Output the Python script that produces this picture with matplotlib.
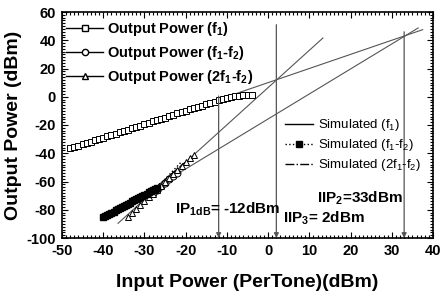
import matplotlib
matplotlib.use('Agg')
import matplotlib.pyplot as plt
from matplotlib.ticker import MultipleLocator

plt.rcParams['font.family'] = ['Liberation Sans', 'DejaVu Sans']
plt.rcParams['mathtext.default'] = 'regular'
plt.rcParams['axes.unicode_minus'] = False

# measured fundamental (f1)
pin_f1 = [-48, -47, -46, -45, -44, -43, -42, -41, -40, -39, -38, -37, -36, -35, -34,
          -33, -32, -31, -30, -29, -28, -27, -26, -25, -24, -23, -22, -21, -20, -19,
          -18, -17, -16, -15, -14, -13, -12, -11, -10, -9, -8, -7, -6, -5, -4]
pout_f1 = [-36.5, -35.6, -34.6, -33.7, -32.7, -31.8, -30.8, -29.9, -28.9, -28.0, -27.0,
           -26.1, -25.1, -24.2, -23.2, -22.3, -21.3, -20.4, -19.4, -18.5, -17.5, -16.6,
           -15.6, -14.7, -13.7, -12.8, -11.8, -10.9, -9.9, -9.0, -8.0, -7.1, -6.2, -5.3,
           -4.4, -3.5, -2.6, -1.8, -1.0, -0.3, 0.3, 0.7, 1.0, 1.1, 1.2]

# measured f1-f2
pin_im2 = [-28, -27, -26, -25, -24, -23, -22]
pout_im2 = [-68, -66, -63.5, -61, -58.5, -56, -54]

# measured 2f1-f2
pin_im3 = [-34, -33, -32, -31, -30, -29, -28, -27, -26, -25, -24, -23, -22, -21, -20, -19, -18]
pout_im3 = [-85, -82.2, -79.5, -76.7, -74, -71.2, -68.5, -65.7, -63, -60.2, -57.5,
            -54.7, -52, -49.2, -46.5, -43.7, -41]

# simulated f1-f2
pin_sim2 = [-40, -39.5, -39, -38.5, -38, -37.5, -37, -36.5, -36, -35.5, -35, -34.5, -34,
            -33.5, -33, -32.5, -32, -31.5, -31, -30.5, -30, -29.5, -29, -28.5, -28, -27.5, -27]
pout_sim2 = [-85.3, -84.5, -83.7, -82.9, -82.1, -81.3, -80.5, -79.7, -78.9, -78.1, -77.3,
             -76.5, -75.7, -74.9, -74.1, -73.3, -72.5, -71.7, -70.9, -70.1, -69.3, -68.5,
             -67.7, -66.9, -66.1, -65.3, -64.5]
pin_sim2_ext = [-27, -21]
pout_sim2_ext = [-64.5, -46]

# simulated 2f1-f2 (short dash-dot piece)
pin_sim3 = [-28, -20]
pout_sim3 = [-66, -46]

# extrapolated lines
fund_x = [-48, 37.5]
fund_y = [-38, 47.5]
im3_x = [-36.4, 13.3]
im3_y = [-89.6, 41.6]
im2_x = [-27, 36.4]
im2_y = [-63.5, 48.7]

# vertical markers: x, top of line
marks_x = [-12, 2, 33]
marks_top = [0.5, 51, 46]

fig = plt.figure(figsize=(4.46, 2.97), dpi=100)
ax = fig.add_axes([62 / 446, 59 / 297, 371 / 446, 226 / 297])

gray = '#555555'
ax.plot(fund_x, fund_y, color=gray, lw=0.8)
ax.plot(im3_x, im3_y, color=gray, lw=0.8)
ax.plot(im2_x, im2_y, color=gray, lw=0.8)

for x, top in zip(marks_x, marks_top):
    ax.annotate('', xy=(x, -100), xytext=(x, top),
                arrowprops=dict(arrowstyle='-|>', color=gray, lw=0.9,
                                mutation_scale=7, shrinkA=0, shrinkB=0))

m1, = ax.plot(pin_f1, pout_f1, ls='none', marker='s', ms=5, mfc='white',
              mec='black', mew=0.7)
m2, = ax.plot(pin_im2, pout_im2, ls='none', marker='o', ms=5, mfc='white',
              mec='black', mew=0.7)
m3, = ax.plot(pin_im3, pout_im3, ls='none', marker='^', ms=5, mfc='white',
              mec='black', mew=0.7)
s2, = ax.plot(pin_sim2, pout_sim2, ls=':', color='black', marker='s', ms=4.5,
              mfc='black', mec='black', lw=1)
ax.plot(pin_sim2_ext, pout_sim2_ext, ls=':', color='black', lw=1)
s3, = ax.plot(pin_sim3, pout_sim3, ls='-.', color='black', lw=0.8)

# legend handles
h1, = ax.plot([], [], color='black', lw=1, marker='s', ms=4.5, mfc='white', mec='black')
h2, = ax.plot([], [], color='black', lw=1, marker='o', ms=4.5, mfc='white', mec='black')
h3, = ax.plot([], [], color='black', lw=1, marker='^', ms=4.5, mfc='white', mec='black')
g1, = ax.plot([], [], color='black', lw=1)
g2, = ax.plot([], [], color='black', ls=':', lw=1, marker='s', ms=4, mfc='black')
g3, = ax.plot([], [], color='black', ls='-.', lw=1)

leg1 = ax.legend([h1, h2, h3],
                 ['Output Power (f$_1$)', 'Output Power (f$_1$-f$_2$)',
                  'Output Power (2f$_1$-f$_2$)'],
                 loc='upper left', bbox_to_anchor=(0.0, 0.982), frameon=False,
                 prop={'size': 10.5, 'weight': 'bold'}, handlelength=2.5,
                 handletextpad=0.3, labelspacing=0.4, borderpad=0.2,
                 borderaxespad=0.1, markerscale=1)
ax.add_artist(leg1)
ax.legend([g1, g2, g3],
          ['Simulated (f$_1$)', 'Simulated (f$_1$-f$_2$)', 'Simulated (2f$_1$-f$_2$)'],
          loc='upper left', bbox_to_anchor=(0.595, 0.545), frameon=False,
          prop={'size': 9.5}, handlelength=2.1, handletextpad=0.4,
          labelspacing=0.3, borderpad=0.2, borderaxespad=0.0)

tfont = {'size': 11, 'weight': 'bold'}
ax.text(-22.6, -80, 'IP$_{1dB}$= -12dBm', va='center', ha='left', **tfont)
ax.text(3.6, -86, 'IIP$_3$= 2dBm', va='center', ha='left', **tfont)
ax.text(11.9, -72, 'IIP$_2$=33dBm', va='center', ha='left', **tfont)

ax.set_xlim(-50, 40)
ax.set_ylim(-100, 60)
ax.xaxis.set_major_locator(MultipleLocator(10))
ax.xaxis.set_minor_locator(MultipleLocator(1))
ax.yaxis.set_major_locator(MultipleLocator(20))
ax.yaxis.set_minor_locator(MultipleLocator(2))
ax.tick_params(which='both', direction='in', top=True, right=True, width=0.8)
ax.tick_params(which='major', length=4, labelsize=10.5, pad=4.5)
ax.tick_params(which='minor', length=2)
for lab in ax.get_xticklabels() + ax.get_yticklabels():
    lab.set_fontweight('bold')
for sp in ax.spines.values():
    sp.set_linewidth(1.2)

ax.set_xlabel('Input Power (PerTone)(dBm)', fontsize=14, fontweight='bold', labelpad=11)
ax.set_ylabel('Output Power (dBm)', fontsize=14, fontweight='bold', labelpad=3)

fig.savefig('out.png', dpi=100)
